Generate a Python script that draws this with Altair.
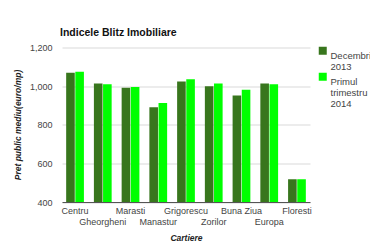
import altair as alt
import pandas as pd

cartiere = ["Centru", "Gheorgheni", "Marasti", "Manastur", "Grigorescu",
            "Zorilor", "Buna Ziua", "Europa", "Floresti"]
dec_2013 = [1069, 1014, 991, 891, 1024, 1000, 952, 1014, 518]
q1_2014 = [1074, 1010, 996, 912, 1036, 1014, 981, 1010, 518]
series = ["Decembrie 2013", "Primul trimestru 2014"]
colors = ["#38761d", "#00ff00"]
y_ticks = [400, 600, 800, 1000, 1200]

rows = []
for i, c in enumerate(cartiere):
    rows.append({"cartier": c, "serie": series[0], "valoare": dec_2013[i]})
    rows.append({"cartier": c, "serie": series[1], "valoare": q1_2014[i]})
df = pd.DataFrame(rows)

font = "Liberation Sans"
second_row = "['Gheorgheni','Manastur','Zorilor','Europa']"

chart = alt.Chart(df).mark_bar(clip=True).encode(
    x=alt.X("cartier:N", sort=cartiere,
            scale=alt.Scale(paddingInner=0.36, paddingOuter=0.15),
            axis=alt.Axis(title="Cartiere", labelAngle=0,
                          labelExpr="indexof(" + second_row + ", datum.label) >= 0 ? ['', datum.label] : datum.label",
                          labelLineHeight=11, labelBaseline="top", labelPadding=4,
                          labelFontSize=9, labelColor="#444", labelFont=font,
                          ticks=False, domainColor="#555",
                          titleFont=font, titleFontSize=8.5, titleFontWeight="bold",
                          titleFontStyle="italic", titleColor="#222",
                          titleX=124, titleY=35.5, titleBaseline="middle")),
    xOffset=alt.XOffset("serie:N", sort=series,
                        scale=alt.Scale(paddingInner=0.06)),
    y=alt.Y("valoare:Q", scale=alt.Scale(domain=[400, 1200], zero=False, nice=False),
            axis=alt.Axis(title="Pret public mediu(euro/mp)", values=y_ticks,
                          format=",.0f", domain=False, ticks=False, labelPadding=10,
                          labelFontSize=9, labelColor="#444", labelFont=font,
                          gridColor="#d9d9d9",
                          titleFont=font, titleFontSize=8.5, titleFontWeight="bold",
                          titleFontStyle="italic", titleColor="#222",
                          titleX=-45, titleY=77, titleBaseline="middle")),
    color=alt.Color("serie:N", sort=series,
                    scale=alt.Scale(domain=series, range=colors),
                    legend=alt.Legend(title=None, orient="none", legendX=256, legendY=-1.5,
                                      symbolType="square", symbolSize=64,
                                      symbolStrokeWidth=0, symbolOpacity=1,
                                      labelExpr="datum.label == '" + series[0] + "' ? ['Decembrie','2013'] : ['Primul','trimestru','2014']",
                                      labelFontSize=9.5, labelColor="#444", labelFont=font,
                                      labelBaseline="top", labelLimit=120,
                                      rowPadding=-3, labelOffset=3)),
).properties(
    width=248, height=154.5,
    title=alt.TitleParams("Indicele Blitz Imobiliare", anchor="start", frame="group",
                          font=font, fontSize=10.5, fontWeight="bold", color="#111",
                          offset=5, dx=-2),
    autosize=alt.AutoSizeParams(type="none"),
    padding={"left": 62, "top": 47.5, "right": 60, "bottom": 48},
).configure(
    style={"guide-label": {"lineHeight": 11}}
).configure_view(stroke=None)

chart.save("out.html", embed_options={"renderer": "svg", "actions": False})
